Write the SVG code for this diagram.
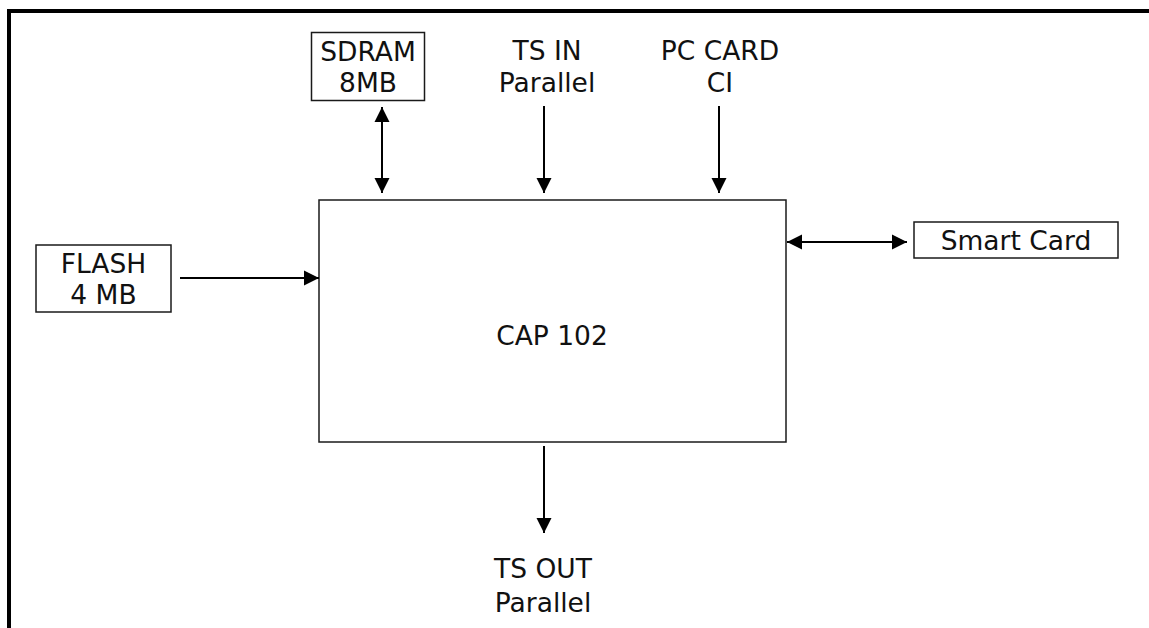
<svg xmlns="http://www.w3.org/2000/svg" width="1149" height="628" viewBox="0 0 1149 628">
<style>
.box{fill:#fff;stroke:#1a1a1a;stroke-width:1.5}
.t{font-family:"DejaVu Sans",Verdana,sans-serif;font-size:26.5px;fill:#111;text-anchor:middle}
.c{stroke:#000;stroke-width:2;fill:none}
</style>
<defs>
<marker id="ah" markerUnits="userSpaceOnUse" markerWidth="16" markerHeight="16" viewBox="0 0 16 16" refX="15" refY="8" orient="auto-start-reverse">
<path d="M0,0.5 L15,8 L0,15.5 Z" fill="#000"/>
</marker>
</defs>
<rect width="1149" height="628" fill="#fff"/>
<g id="frame">
<path d="M9,628 V11 H1149" fill="none" stroke="#000" stroke-width="4"/>
</g>
<g id="cap102">
<rect class="box" x="319" y="200" width="467" height="242"/>
<text class="t" x="552" y="345">CAP 102</text>
</g>
<g id="sdram">
<rect class="box" x="311.5" y="32.5" width="113" height="68"/>
<text class="t" x="368" y="61">SDRAM</text>
<text class="t" x="368" y="92">8MB</text>
</g>
<g id="tsin">
<text class="t" x="547" y="60">TS IN</text>
<text class="t" x="547" y="92">Parallel</text>
</g>
<g id="pccard">
<text class="t" x="720" y="60">PC CARD</text>
<text class="t" x="720" y="92">CI</text>
</g>
<g id="flash">
<rect class="box" x="36" y="245" width="135" height="67"/>
<text class="t" x="103.5" y="273">FLASH</text>
<text class="t" x="103.5" y="304">4 MB</text>
</g>
<g id="smartcard">
<rect class="box" x="914" y="222" width="204" height="36"/>
<text class="t" x="1016" y="250">Smart Card</text>
</g>
<g id="tsout">
<text class="t" x="543" y="578">TS OUT</text>
<text class="t" x="543" y="612">Parallel</text>
</g>
<g id="connectors">
<line class="c" x1="382" y1="107" x2="382" y2="193" marker-start="url(#ah)" marker-end="url(#ah)"/>
<line class="c" x1="544" y1="106" x2="544" y2="193" marker-end="url(#ah)"/>
<line class="c" x1="719" y1="106" x2="719" y2="193" marker-end="url(#ah)"/>
<line class="c" x1="180" y1="278" x2="319" y2="278" marker-end="url(#ah)"/>
<line class="c" x1="787" y1="242" x2="907" y2="242" marker-start="url(#ah)" marker-end="url(#ah)"/>
<line class="c" x1="544" y1="446" x2="544" y2="533" marker-end="url(#ah)"/>
</g>
</svg>
